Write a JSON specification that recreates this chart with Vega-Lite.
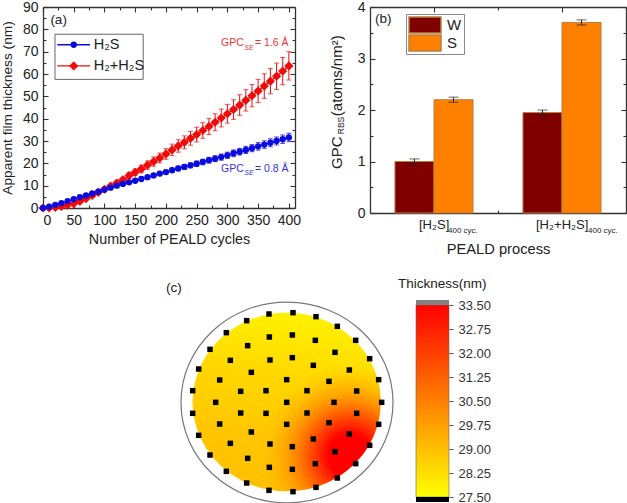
{"$schema":"https://vega.github.io/schema/vega-lite/v6.json","background":"white","padding":{"left":0,"top":0,"right":0,"bottom":0},"config":{"view":{"stroke":null},"font":"Liberation Sans","axis":{"grid":false,"labelFont":"Liberation Sans","titleFont":"Liberation Sans","labelColor":"#222","titleColor":"#222","domainColor":"#333","tickColor":"#333","domainWidth":1.3,"tickWidth":1.1,"labelFontSize":14,"titleFontSize":15,"titleFontWeight":"normal"},"text":{"font":"Liberation Sans"}},"bounds":"flush","align":"none","columns":2,"spacing":{"row":84,"column":75},"resolve":{"scale":{"color":"independent","shape":"independent","size":"independent"}},"concat":[{"width":252,"height":201,"data":{"values":[{"c":0,"s":"R","t":0,"lo":0,"hi":0},{"c":10,"s":"R","t":0.1,"lo":0,"hi":0.2},{"c":20,"s":"R","t":0.3,"lo":0.2,"hi":0.4},{"c":30,"s":"R","t":0.7,"lo":0.5,"hi":0.9},{"c":40,"s":"R","t":1.3,"lo":1,"hi":1.6},{"c":50,"s":"R","t":2,"lo":1.6,"hi":2.4},{"c":60,"s":"R","t":3,"lo":2.5,"hi":3.5},{"c":70,"s":"R","t":4.2,"lo":3.6,"hi":4.8},{"c":80,"s":"R","t":5.6,"lo":4.9,"hi":6.3},{"c":90,"s":"R","t":7,"lo":6.3,"hi":7.7},{"c":100,"s":"R","t":8.4,"lo":7.6,"hi":9.2},{"c":110,"s":"R","t":9.8,"lo":8.9,"hi":10.7},{"c":120,"s":"R","t":11.2,"lo":10.2,"hi":12.2},{"c":130,"s":"R","t":12.6,"lo":11.4,"hi":13.8},{"c":140,"s":"R","t":14.5,"lo":13.1,"hi":15.9},{"c":150,"s":"R","t":16,"lo":14.5,"hi":17.5},{"c":160,"s":"R","t":17.5,"lo":15.8,"hi":19.2},{"c":170,"s":"R","t":19.2,"lo":17.3,"hi":21.1},{"c":180,"s":"R","t":20.8,"lo":18.7,"hi":22.9},{"c":190,"s":"R","t":22.4,"lo":20.2,"hi":24.6},{"c":200,"s":"R","t":24.2,"lo":21.8,"hi":26.6},{"c":210,"s":"R","t":26,"lo":23.4,"hi":28.6},{"c":220,"s":"R","t":27.8,"lo":25,"hi":30.6},{"c":230,"s":"R","t":29.4,"lo":26.5,"hi":32.3},{"c":240,"s":"R","t":31.2,"lo":28.1,"hi":34.3},{"c":250,"s":"R","t":32.9,"lo":29.6,"hi":36.2},{"c":260,"s":"R","t":34.7,"lo":31.2,"hi":38.2},{"c":270,"s":"R","t":36.5,"lo":32.9,"hi":40.1},{"c":280,"s":"R","t":38.4,"lo":34.6,"hi":42.2},{"c":290,"s":"R","t":40.3,"lo":36.3,"hi":44.3},{"c":300,"s":"R","t":42.2,"lo":38,"hi":46.4},{"c":310,"s":"R","t":44.1,"lo":39.7,"hi":48.5},{"c":320,"s":"R","t":46.1,"lo":41.5,"hi":50.7},{"c":330,"s":"R","t":48.2,"lo":43.4,"hi":53},{"c":340,"s":"R","t":50.3,"lo":45.3,"hi":55.3},{"c":350,"s":"R","t":52.4,"lo":47.2,"hi":57.6},{"c":360,"s":"R","t":54.6,"lo":49.1,"hi":60.1},{"c":370,"s":"R","t":56.8,"lo":51.1,"hi":62.5},{"c":380,"s":"R","t":59,"lo":53.1,"hi":64.9},{"c":390,"s":"R","t":61.3,"lo":55.2,"hi":67.4},{"c":400,"s":"R","t":63.6,"lo":57.3,"hi":70},{"c":0,"s":"H","t":0,"lo":0,"hi":0},{"c":10,"s":"H","t":0.6,"lo":0.5,"hi":0.7},{"c":20,"s":"H","t":1.4,"lo":1.3,"hi":1.5},{"c":30,"s":"H","t":2.2,"lo":2,"hi":2.4},{"c":40,"s":"H","t":3.1,"lo":2.9,"hi":3.3},{"c":50,"s":"H","t":4,"lo":3.7,"hi":4.3},{"c":60,"s":"H","t":4.9,"lo":4.6,"hi":5.2},{"c":70,"s":"H","t":5.6,"lo":5.2,"hi":6},{"c":80,"s":"H","t":6.5,"lo":6.1,"hi":6.9},{"c":90,"s":"H","t":7.3,"lo":6.9,"hi":7.7},{"c":100,"s":"H","t":8.2,"lo":7.7,"hi":8.7},{"c":110,"s":"H","t":9.1,"lo":8.6,"hi":9.6},{"c":120,"s":"H","t":10,"lo":9.4,"hi":10.6},{"c":130,"s":"H","t":10.8,"lo":10.2,"hi":11.4},{"c":140,"s":"H","t":11.5,"lo":10.8,"hi":12.2},{"c":150,"s":"H","t":12.2,"lo":11.5,"hi":12.9},{"c":160,"s":"H","t":13,"lo":12.2,"hi":13.8},{"c":170,"s":"H","t":13.8,"lo":13,"hi":14.6},{"c":180,"s":"H","t":14.6,"lo":13.8,"hi":15.4},{"c":190,"s":"H","t":15.4,"lo":14.5,"hi":16.3},{"c":200,"s":"H","t":16.1,"lo":15.2,"hi":17},{"c":210,"s":"H","t":16.9,"lo":15.9,"hi":17.9},{"c":220,"s":"H","t":17.7,"lo":16.7,"hi":18.7},{"c":230,"s":"H","t":18.4,"lo":17.3,"hi":19.5},{"c":240,"s":"H","t":19.1,"lo":18,"hi":20.2},{"c":250,"s":"H","t":19.8,"lo":18.6,"hi":21},{"c":260,"s":"H","t":20.6,"lo":19.4,"hi":21.8},{"c":270,"s":"H","t":21.4,"lo":20.1,"hi":22.7},{"c":280,"s":"H","t":22.1,"lo":20.8,"hi":23.4},{"c":290,"s":"H","t":22.8,"lo":21.4,"hi":24.2},{"c":300,"s":"H","t":23.6,"lo":22.2,"hi":25},{"c":310,"s":"H","t":24.5,"lo":23,"hi":26},{"c":320,"s":"H","t":25.2,"lo":23.7,"hi":26.7},{"c":330,"s":"H","t":26,"lo":24.4,"hi":27.6},{"c":340,"s":"H","t":26.8,"lo":25.2,"hi":28.4},{"c":350,"s":"H","t":27.6,"lo":25.9,"hi":29.3},{"c":360,"s":"H","t":28.4,"lo":26.7,"hi":30.1},{"c":370,"s":"H","t":29.2,"lo":27.4,"hi":31},{"c":380,"s":"H","t":30,"lo":28.2,"hi":31.8},{"c":390,"s":"H","t":30.8,"lo":28.9,"hi":32.7},{"c":400,"s":"H","t":31.6,"lo":29.7,"hi":33.5}]},"resolve":{"axis":{"x":"independent","y":"independent"}},"layer":[{"mark":{"type":"rule","strokeWidth":1},"encoding":{"x":{"field":"c","type":"quantitative","scale":{"domain":[0,410],"nice":false,"zero":false},"axis":{"orient":"bottom","values":[0,50,100,150,200,250,300,350,400],"tickSize":-5,"labelPadding":10,"title":"Number of PEALD cycles","titleFontSize":14.3,"titlePadding":5}},"y":{"field":"lo","type":"quantitative","scale":{"domain":[0,90],"nice":false},"axis":{"orient":"left","values":[0,10,20,30,40,50,60,70,80,90],"tickSize":-5,"labelPadding":10,"title":"Apparent film thickness (nm)","titleFontSize":13.7,"titlePadding":7.5}},"y2":{"field":"hi"},"color":{"field":"s","type":"nominal","scale":{"domain":["R","H"],"range":["#f00a0a","#0a0ae0"]},"legend":null}}},{"mark":{"type":"tick","orient":"horizontal","size":5,"thickness":1},"encoding":{"x":{"field":"c","type":"quantitative","axis":{"orient":"bottom","values":[25,75,125,175,225,275,325,375],"tickSize":-3,"labels":false,"domain":false,"title":null}},"y":{"field":"lo","type":"quantitative","axis":{"orient":"left","values":[5,15,25,35,45,55,65,75,85],"tickSize":-3,"labels":false,"domain":false,"title":null}},"color":{"field":"s","type":"nominal","legend":null}}},{"mark":{"type":"tick","orient":"horizontal","size":5,"thickness":1},"encoding":{"x":{"field":"c","type":"quantitative","axis":{"orient":"top","values":[0,50,100,150,200,250,300,350,400],"tickSize":-5,"labels":false,"title":null}},"y":{"field":"hi","type":"quantitative","axis":{"orient":"right","values":[0,10,20,30,40,50,60,70,80,90],"tickSize":-5,"labels":false,"title":null}},"color":{"field":"s","type":"nominal","legend":null}}},{"mark":{"type":"line","strokeWidth":1.3},"encoding":{"x":{"field":"c","type":"quantitative","axis":{"orient":"top","values":[25,75,125,175,225,275,325,375],"tickSize":-3,"labels":false,"domain":false,"title":null}},"y":{"field":"t","type":"quantitative","axis":{"orient":"right","values":[5,15,25,35,45,55,65,75,85],"tickSize":-3,"labels":false,"domain":false,"title":null}},"color":{"field":"s","type":"nominal","legend":null}}},{"mark":{"type":"point","filled":true,"opacity":1},"encoding":{"x":{"field":"c","type":"quantitative","axis":null},"y":{"field":"t","type":"quantitative","axis":null},"color":{"field":"s","type":"nominal","legend":null},"shape":{"field":"s","type":"nominal","scale":{"domain":["R","H"],"range":["diamond","circle"]},"legend":null},"size":{"field":"s","type":"nominal","scale":{"domain":["R","H"],"range":[85,40]},"legend":null}}},{"data":{"values":[{"a":19.5,"b":163,"lo":57.6,"hi":77.8}]},"mark":{"type":"rect","fill":"white","stroke":"#666","strokeWidth":1},"encoding":{"x":{"field":"a","type":"quantitative","axis":null},"x2":{"field":"b"},"y":{"field":"lo","type":"quantitative","axis":null},"y2":{"field":"hi"}}},{"data":{"values":[{"c":23.3,"t":73.1,"s":"H"},{"c":76.5,"t":73.1,"s":"H"},{"c":23.3,"t":63.6,"s":"R"},{"c":76.5,"t":63.6,"s":"R"}]},"mark":{"type":"line","strokeWidth":1.3},"encoding":{"x":{"field":"c","type":"quantitative","axis":null},"y":{"field":"t","type":"quantitative","axis":null},"color":{"field":"s","type":"nominal","legend":null}}},{"data":{"values":[{"c":50,"t":73.1,"s":"H"},{"c":50,"t":63.6,"s":"R"}]},"mark":{"type":"point","filled":true,"opacity":1},"encoding":{"x":{"field":"c","type":"quantitative","axis":null},"y":{"field":"t","type":"quantitative","axis":null},"color":{"field":"s","type":"nominal","legend":null},"shape":{"field":"s","type":"nominal","legend":null},"size":{"field":"s","type":"nominal","legend":null}}},{"data":{"values":[{"c":82.5,"t":73.1,"k":"H₂S"},{"c":82.5,"t":63.6,"k":"H₂+H₂S"}]},"mark":{"type":"text","align":"left","baseline":"middle","fontSize":14.5,"color":"#222"},"encoding":{"x":{"field":"c","type":"quantitative","axis":null},"y":{"field":"t","type":"quantitative","axis":null},"text":{"field":"k"}}},{"data":{"values":[{"c":12,"t":84.4,"k":"(a)"}]},"mark":{"type":"text","align":"left","baseline":"middle","fontSize":13.5,"color":"#222"},"encoding":{"x":{"field":"c","type":"quantitative","axis":null},"y":{"field":"t","type":"quantitative","axis":null},"text":{"field":"k"}}},{"data":{"values":[{"c":289.6,"t":73.9,"k":"GPC","s":"R"},{"c":345,"t":73.9,"k":"= 1.6 Å","s":"R"},{"c":289.6,"t":17.6,"k":"GPC","s":"H"},{"c":345,"t":17.6,"k":"= 0.8 Å","s":"H"}]},"mark":{"type":"text","align":"left","baseline":"middle","fontSize":10.5,"opacity":0.85},"encoding":{"x":{"field":"c","type":"quantitative","axis":null},"y":{"field":"t","type":"quantitative","axis":null},"text":{"field":"k"},"color":{"field":"s","type":"nominal","legend":null}}},{"data":{"values":[{"c":327.5,"t":71.6,"k":"SE","s":"R"},{"c":327.5,"t":15.8,"k":"SE","s":"H"}]},"mark":{"type":"text","align":"left","baseline":"middle","fontSize":7,"fontStyle":"italic","opacity":0.85},"encoding":{"x":{"field":"c","type":"quantitative","axis":null},"y":{"field":"t","type":"quantitative","axis":null},"text":{"field":"k"},"color":{"field":"s","type":"nominal","legend":null}}}]},{"width":256,"height":206,"data":{"values":[{"p":"[H2S]","s":"W","v":1,"lo":0.95,"hi":1.05},{"p":"[H2S]","s":"S","v":2.2,"lo":2.15,"hi":2.25},{"p":"[H2+H2S]","s":"W","v":1.95,"lo":1.9,"hi":2},{"p":"[H2+H2S]","s":"S","v":3.7,"lo":3.65,"hi":3.75}]},"resolve":{"axis":{"x":"independent","y":"independent"}},"layer":[{"mark":{"type":"bar","stroke":"#b5803f","strokeWidth":1},"encoding":{"x":{"field":"p","type":"nominal","sort":["[H2S]","[H2+H2S]"],"scale":{"domain":["[H2S]","[H2+H2S]"],"paddingInner":0.39,"paddingOuter":0.195},"axis":{"orient":"bottom","tickSize":-5,"labels":false,"title":"PEALD process","titleFontSize":14.7,"titlePadding":28}},"xOffset":{"field":"s","type":"nominal","sort":["W","S"],"scale":{"domain":["W","S"],"paddingInner":0,"paddingOuter":0}},"y":{"field":"v","type":"quantitative","scale":{"domain":[0,4],"nice":false},"axis":{"orient":"left","values":[0,1,2,3,4],"tickSize":-5,"labelPadding":10,"title":null}},"color":{"field":"s","type":"nominal","scale":{"domain":["W","S"],"range":["#7f0000","#ff8000"]},"legend":{"title":null,"orient":"none","legendX":36,"legendY":7,"symbolType":"M-1,-0.5H1V0.5H-1Z","symbolSize":1024,"clipHeight":18,"rowPadding":0,"labelFontSize":15,"labelColor":"#222","labelOffset":5,"labelFont":"Liberation Sans","fillColor":"white","strokeColor":"#888","padding":2}}}},{"mark":{"type":"rule","color":"#222","strokeWidth":1},"encoding":{"x":{"field":"p","type":"nominal","sort":["[H2S]","[H2+H2S]"],"axis":{"orient":"bottom","values":["[H2S]"],"bandPosition":1.32,"tickSize":-3,"labels":false,"domain":false,"title":null}},"xOffset":{"field":"s","type":"nominal","sort":["W","S"]},"y":{"field":"lo","type":"quantitative","axis":{"orient":"left","values":[0.5,1.5,2.5,3.5],"tickSize":-3,"labels":false,"domain":false,"title":null}},"y2":{"field":"hi"}}},{"mark":{"type":"tick","orient":"horizontal","size":10,"thickness":1,"color":"#222"},"encoding":{"x":{"field":"p","type":"nominal","sort":["[H2S]","[H2+H2S]"],"axis":{"orient":"top","tickSize":-5,"labels":false,"title":null}},"xOffset":{"field":"s","type":"nominal","sort":["W","S"]},"y":{"field":"lo","type":"quantitative","axis":{"orient":"right","values":[0,1,2,3,4],"tickSize":-5,"labels":false,"title":null}}}},{"mark":{"type":"tick","orient":"horizontal","size":10,"thickness":1,"color":"#222"},"encoding":{"x":{"field":"p","type":"nominal","sort":["[H2S]","[H2+H2S]"],"axis":{"orient":"top","values":["[H2S]"],"bandPosition":1.32,"tickSize":-3,"labels":false,"domain":false,"title":null}},"xOffset":{"field":"s","type":"nominal","sort":["W","S"]},"y":{"field":"hi","type":"quantitative","axis":{"orient":"right","values":[0.5,1.5,2.5,3.5],"tickSize":-3,"labels":false,"domain":false,"title":null}}}},{"data":{"values":[{"p":"[H2S]","v":-0.233,"k":"[H₂S]"}]},"mark":{"type":"text","align":"left","baseline":"middle","dx":-15,"fontSize":13,"color":"#222"},"encoding":{"x":{"field":"p","type":"nominal","axis":null},"y":{"field":"v","type":"quantitative","axis":null},"text":{"field":"k"}}},{"data":{"values":[{"p":"[H2S]","v":-0.35,"k":"400 cyc."}]},"mark":{"type":"text","align":"left","baseline":"middle","dx":14,"fontSize":8,"color":"#222"},"encoding":{"x":{"field":"p","type":"nominal","axis":null},"y":{"field":"v","type":"quantitative","axis":null},"text":{"field":"k"}}},{"data":{"values":[{"p":"[H2+H2S]","v":-0.233,"k":"[H₂+H₂S]"}]},"mark":{"type":"text","align":"left","baseline":"middle","dx":-26,"fontSize":13,"color":"#222"},"encoding":{"x":{"field":"p","type":"nominal","axis":null},"y":{"field":"v","type":"quantitative","axis":null},"text":{"field":"k"}}},{"data":{"values":[{"p":"[H2+H2S]","v":-0.35,"k":"400 cyc."}]},"mark":{"type":"text","align":"left","baseline":"middle","dx":26,"fontSize":8,"color":"#222"},"encoding":{"x":{"field":"p","type":"nominal","axis":null},"y":{"field":"v","type":"quantitative","axis":null},"text":{"field":"k"}}},{"data":{"values":[{"p":"[H2S]","v":3.77,"k":"(b)"}]},"mark":{"type":"text","align":"left","baseline":"middle","dx":-59,"fontSize":13.5,"color":"#222"},"encoding":{"x":{"field":"p","type":"nominal","axis":null},"y":{"field":"v","type":"quantitative","axis":null},"text":{"field":"k"}}},{"data":{"values":[{"p":"[H2S]","v":0.854,"k":"GPC"},{"p":"[H2S]","v":1.88,"k":"(atoms/nm²)"}]},"mark":{"type":"text","angle":270,"align":"left","baseline":"middle","dy":-97,"fontSize":15,"color":"#222"},"encoding":{"x":{"field":"p","type":"nominal","axis":null},"y":{"field":"v","type":"quantitative","axis":null},"text":{"field":"k"}}},{"data":{"values":[{"p":"[H2S]","v":1.53,"k":"RBS"}]},"mark":{"type":"text","angle":270,"align":"left","baseline":"middle","dy":-93,"fontSize":8.5,"color":"#222"},"encoding":{"x":{"field":"p","type":"nominal","axis":null},"y":{"field":"v","type":"quantitative","axis":null},"text":{"field":"k"}}}]},{"width":252,"height":207,"layer":[{"data":{"values":[{"x":380,"y":423}]},"mark":{"type":"point","filled":true,"opacity":1,"size":35344,"shape":"M-1,0C-1,-.525 -.5523,-.95 0,-.95C.5523,-.95 1,-.525 1,0C1,.525 .5523,.95 0,.95C-.5523,.95 -1,.525 -1,0Z","fill":{"gradient":"linear","x1":0.55,"y1":0,"x2":0.4,"y2":1,"stops":[{"offset":0,"color":"#fff200"},{"offset":0.35,"color":"#ffd800"},{"offset":0.7,"color":"#ffc600"},{"offset":1,"color":"#ffc000"}]}},"encoding":{"x":{"field":"x","type":"quantitative","scale":{"domain":[-351,405],"nice":false,"zero":false},"axis":null},"y":{"field":"y","type":"quantitative","scale":{"domain":[108,729],"nice":false,"zero":false,"reverse":true},"axis":null}}},{"data":{"values":[{"x":380,"y":423}]},"mark":{"type":"point","filled":true,"opacity":1,"size":35344,"shape":"M-1,0C-1,-.525 -.5523,-.95 0,-.95C.5523,-.95 1,-.525 1,0C1,.525 .5523,.95 0,.95C-.5523,.95 -1,.525 -1,0Z","fill":{"gradient":"radial","x1":0.837,"y1":0.785,"r1":0,"x2":0.837,"y2":0.785,"r2":0.48,"stops":[{"offset":0,"color":"rgba(255,0,0,1)"},{"offset":0.24,"color":"rgba(255,0,0,1)"},{"offset":0.45,"color":"rgba(255,70,0,0.9)"},{"offset":0.72,"color":"rgba(255,140,0,0.55)"},{"offset":1,"color":"rgba(255,190,0,0)"}]}},"encoding":{"x":{"field":"x","type":"quantitative"},"y":{"field":"y","type":"quantitative"}}},{"data":{"values":[{"x":381,"y":424.5}]},"mark":{"type":"point","filled":false,"opacity":1,"stroke":"#777","strokeWidth":1.2,"size":44944,"shape":"M-1,0C-1,-.525 -.5523,-.947 0,-.947C.5523,-.947 1,-.525 1,0C1,.525 .5523,.947 0,.947C-.5523,.947 -1,.525 -1,0Z"},"encoding":{"x":{"field":"x","type":"quantitative"},"y":{"field":"y","type":"quantitative"}}},{"data":{"values":[{"x":327,"y":159},{"x":399,"y":155},{"x":468,"y":167},{"x":532,"y":196},{"x":587,"y":238},{"x":629,"y":293},{"x":656,"y":356},{"x":665,"y":424},{"x":656,"y":490},{"x":629,"y":553},{"x":587,"y":608},{"x":532,"y":651},{"x":468,"y":679},{"x":399,"y":692},{"x":327,"y":688},{"x":260,"y":666},{"x":199,"y":631},{"x":150,"y":582},{"x":116,"y":523},{"x":98,"y":457},{"x":98,"y":389},{"x":116,"y":324},{"x":150,"y":265},{"x":199,"y":215},{"x":260,"y":179},{"x":328,"y":228},{"x":397,"y":222},{"x":466,"y":238},{"x":525,"y":274},{"x":568,"y":327},{"x":590,"y":390},{"x":590,"y":457},{"x":568,"y":519},{"x":525,"y":572},{"x":466,"y":608},{"x":397,"y":625},{"x":328,"y":619},{"x":263,"y":592},{"x":211,"y":547},{"x":179,"y":489},{"x":167,"y":424},{"x":179,"y":357},{"x":211,"y":298},{"x":263,"y":254},{"x":330,"y":297},{"x":397,"y":290},{"x":460,"y":313},{"x":507,"y":361},{"x":522,"y":424},{"x":507,"y":485},{"x":460,"y":534},{"x":397,"y":557},{"x":330,"y":549},{"x":274,"y":513},{"x":242,"y":456},{"x":242,"y":391},{"x":274,"y":334},{"x":380,"y":356},{"x":441,"y":389},{"x":441,"y":456},{"x":380,"y":490},{"x":318,"y":457},{"x":318,"y":389},{"x":380,"y":424}]},"mark":{"type":"square","size":30,"color":"black","opacity":1},"encoding":{"x":{"field":"x","type":"quantitative"},"y":{"field":"y","type":"quantitative"}}},{"data":{"values":[{"x":18,"y":80,"k":"(c)"}]},"mark":{"type":"text","align":"left","baseline":"middle","fontSize":13.5,"color":"#222"},"encoding":{"x":{"field":"x","type":"quantitative"},"y":{"field":"y","type":"quantitative"},"text":{"field":"k"}}}]},{"width":79,"height":205,"layer":[{"data":{"values":[{"a":0,"b":1,"lo":27.5,"hi":33.5}]},"mark":{"type":"rect","fill":{"gradient":"linear","x1":0,"y1":1,"x2":0,"y2":0,"stops":[{"offset":0,"color":"#ffff00"},{"offset":1,"color":"#ff0000"}]},"stroke":"#666","strokeWidth":0.6},"encoding":{"x":{"field":"a","type":"quantitative","scale":{"domain":[-1.394,1],"nice":false,"zero":false},"axis":null},"x2":{"field":"b"},"y":{"field":"lo","type":"quantitative","scale":{"domain":[27.344,33.75],"nice":false,"zero":false},"axis":{"orient":"right","values":[27.5,28.25,29,29.75,30.5,31.25,32,32.75,33.5],"tickCount":20,"format":".2f","labelOverlap":false,"domain":false,"tickSize":4,"labelFontSize":13,"labelPadding":5,"labelColor":"#333","tickColor":"#555","title":null}},"y2":{"field":"hi"}}},{"data":{"values":[{"a":0,"b":1,"lo":27.344,"hi":27.5,"k":"under"},{"a":0,"b":1,"lo":33.5,"hi":33.656,"k":"over"}]},"mark":{"type":"rect"},"encoding":{"x":{"field":"a","type":"quantitative","axis":null},"x2":{"field":"b"},"y":{"field":"lo","type":"quantitative","axis":{"orient":"right","values":[27.5,28.25,29,29.75,30.5,31.25,32,32.75,33.5],"tickCount":20,"format":".2f","labelOverlap":false,"domain":false,"tickSize":4,"labelFontSize":13,"labelPadding":5,"labelColor":"#333","tickColor":"#555","title":null}},"y2":{"field":"hi"},"color":{"field":"k","type":"nominal","scale":{"domain":["under","over"],"range":["#000000","#808080"]},"legend":null}}},{"data":{"values":[{"a":0.88,"v":34.156,"k":"Thickness(nm)"}]},"mark":{"type":"text","align":"left","baseline":"middle","dx":-47,"fontSize":13.5,"color":"#222"},"encoding":{"x":{"field":"a","type":"quantitative","axis":null},"y":{"field":"v","type":"quantitative","axis":{"orient":"right","values":[27.5,28.25,29,29.75,30.5,31.25,32,32.75,33.5],"tickCount":20,"format":".2f","labelOverlap":false,"domain":false,"tickSize":4,"labelFontSize":13,"labelPadding":5,"labelColor":"#333","tickColor":"#555","title":null}},"text":{"field":"k"}}}]}]}
